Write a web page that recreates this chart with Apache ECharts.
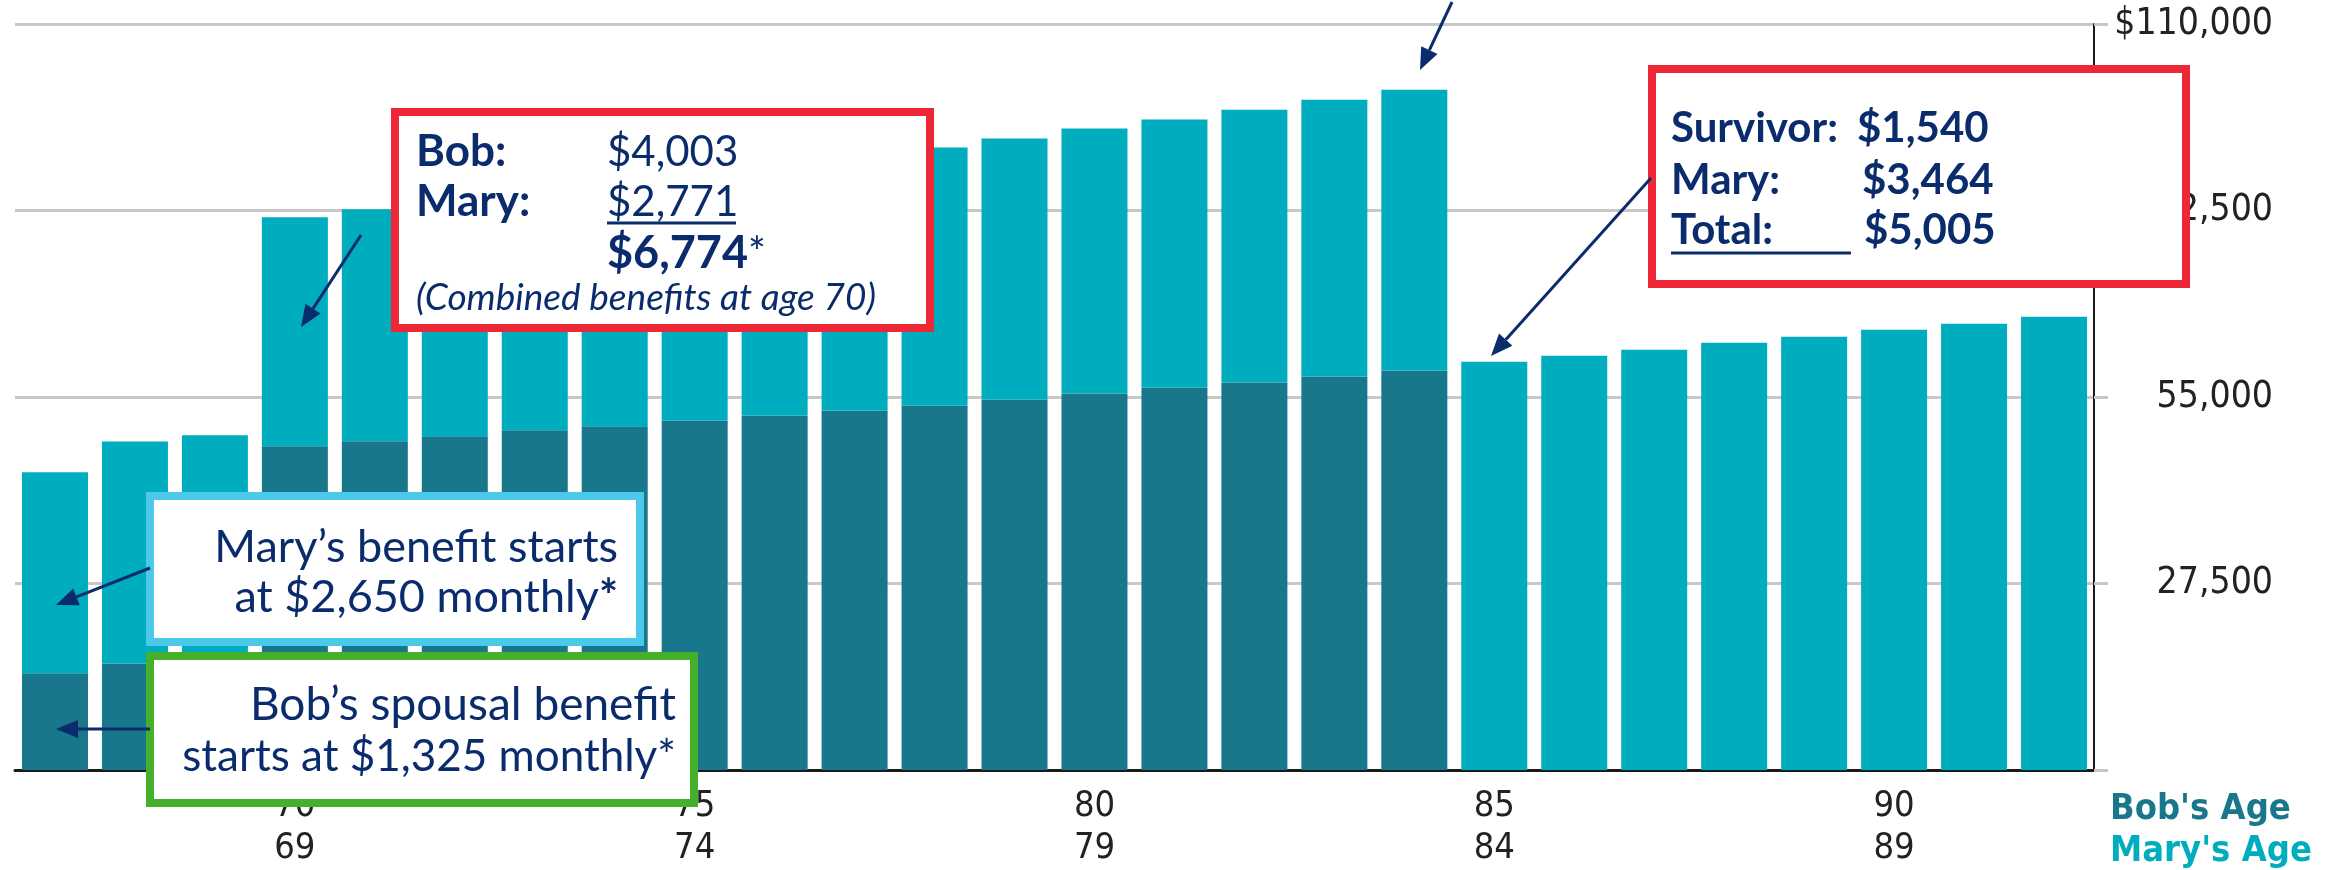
<!DOCTYPE html>
<html>
<head>
<meta charset="utf-8">
<title>Bob and Mary - annual benefits</title>
<script src="https://cdn.jsdelivr.net/npm/echarts@6.0.0/dist/echarts.min.js"></script>
<style>
  html, body { margin: 0; padding: 0; background: #fff; }
  #chart { width: 2346px; height: 870px; }
</style>
</head>
<body>
<div id="chart"></div>
<script>
// x axis: Bob's age, Mary's age (one year younger)
const bobAges = [67, 68, 69, 70, 71, 72, 73, 74, 75, 76, 77, 78, 79, 80, 81, 82, 83, 84, 85, 86, 87, 88, 89, 90, 91, 92];
const maryAges = [66, 67, 68, 69, 70, 71, 72, 73, 74, 75, 76, 77, 78, 79, 80, 81, 82, 83, 84, 85, 86, 87, 88, 89, 90, 91];

// annual benefit, dark part (Bob) and light part (Mary / survivor)
const bobBenefit = [14250, 15700, 16000, 47730, 48460, 49200, 50080, 50670, 51550, 52280, 53020, 53750, 54630,
  55510, 56390, 57130, 58010, 58890, 0, 0, 0, 0, 0, 0, 0, 0];
const maryBenefit = [29650, 32750, 33350, 33770, 34220, 34800, 35250, 35980, 36270, 36860, 37450, 38040, 38480,
  39070, 39510, 40240, 40830, 41410, 60210, 61090, 61980, 63000, 63880, 64910, 65790, 66820];

// y axis ticks
const yMin = 0;
const yMax = 110000;
const yStep = 27500;

const bobColor = '#19778b';
const maryColor = '#00adbe';
const navy = '#0b2c6c';
const axisFont = "'DejaVu Sans Condensed', 'Liberation Sans', sans-serif";
const noteFont = "Lato, 'Noto Sans', sans-serif";

const chart = echarts.init(document.getElementById('chart'));

// arrow = line + triangle head
function arrow(x1, y1, x2, y2) {
  const ang = Math.atan2(y2 - y1, x2 - x1);
  const len = 22, half = 9;
  const bx = x2 - len * Math.cos(ang), by = y2 - len * Math.sin(ang);
  const px = -Math.sin(ang) * half, py = Math.cos(ang) * half;
  return [
    { type: 'line', z: 100, shape: { x1: x1, y1: y1, x2: bx, y2: by }, style: { stroke: navy, lineWidth: 3 } },
    { type: 'polygon', z: 100, shape: { points: [[x2, y2], [bx + px, by + py], [bx - px, by - py]] }, style: { fill: navy } }
  ];
}

function box(x, y, w, h, color) {
  return { type: 'rect', z: 90, shape: { x: x, y: y, width: w, height: h },
    style: { fill: '#fff', stroke: color, lineWidth: 8 } };
}

function note(text, x, y, opt) {
  opt = opt || {};
  return {
    type: 'text', z: 100,
    style: {
      text: text, x: x, y: y,
      fill: opt.color || navy,
      font: (opt.style || 'normal') + ' ' + (opt.weight || 'normal') + ' ' + (opt.size || 42) + 'px ' + (opt.family || noteFont),
      align: opt.align || 'left',
      verticalAlign: 'middle',
      rich: opt.rich
    }
  };
}

function underline(x1, x2, y) {
  return { type: 'line', z: 100, shape: { x1: x1, y1: y, x2: x2, y2: y }, style: { stroke: navy, lineWidth: 3 } };
}

const boldStar = {
  t: { fontFamily: noteFont, fontSize: 45, color: navy },
  s: { fontFamily: noteFont, fontSize: 45, color: navy, fontWeight: 'bold' }
};
const plainStar = {
  b: { fontFamily: noteFont, fontSize: 45, color: navy, fontWeight: 'bold' },
  s: { fontFamily: noteFont, fontSize: 42, color: navy }
};

const graphics = [].concat(
  // combined benefits box
  box(395, 112, 535, 216, '#ee2737'),
  note('Bob:', 416, 152, { weight: 'bold', size: 44 }),
  note('$4,003', 607, 152),
  note('Mary:', 416, 202, { weight: 'bold', size: 44 }),
  note('$2,771', 607, 202),
  underline(607, 736, 223),
  note('{b|$6,774}{s|*}', 607, 253, { rich: plainStar }),
  note('(Combined benefits at age 70)', 416, 298, { style: 'italic', size: 37 }),
  // survivor box
  box(1652, 69, 534, 215, '#ee2737'),
  note('Survivor:', 1671, 128, { weight: 'bold' }),
  note('$1,540', 1857, 128, { weight: 'bold' }),
  note('Mary:', 1671, 180, { weight: 'bold' }),
  note('$3,464', 1862, 180, { weight: 'bold' }),
  note('Total:', 1671, 230, { weight: 'bold' }),
  underline(1671, 1851, 253),
  note('$5,005', 1864, 230, { weight: 'bold' }),
  // Mary start box
  box(150, 496, 490, 146, '#4cc8ea'),
  note('Mary\u2019s benefit starts', 618, 547, { align: 'right', size: 45 }),
  note('{t|at $2,650 monthly}{s|*}', 618, 597, { align: 'right', rich: boldStar }),
  // Bob spousal box
  box(150, 656, 544, 147, '#45b02c'),
  note('Bob\u2019s spousal benefit', 676, 705, { align: 'right', size: 46 }),
  note('starts at $1,325 monthly*', 676, 757, { align: 'right', size: 44 }),
  // arrows
  arrow(361, 235, 301, 327),
  arrow(1452, 2, 1420, 70),
  arrow(1651, 178, 1491, 356),
  arrow(150, 568, 56, 605),
  arrow(150, 729, 56, 729),
  // axis titles
  note("Bob's Age", 2110, 810, { weight: 'bold', size: 36, family: axisFont, color: bobColor }),
  note("Mary's Age", 2110, 852, { weight: 'bold', size: 36, family: axisFont, color: maryColor })
);

chart.setOption({
  animation: false,
  backgroundColor: '#fff',
  grid: { left: 15, right: 252, top: 24, bottom: 97 },
  xAxis: {
    type: 'category',
    data: bobAges,
    axisLine: { lineStyle: { color: '#1a1a1a', width: 3 } },
    axisTick: { interval: 0, alignWithLabel: true, length: 13, lineStyle: { color: '#1a1a1a', width: 2 } },
    axisLabel: {
      interval: function (i, v) { return Number(v) % 5 === 0; },
      formatter: function (v, i) { return v + '\n' + maryAges[i]; },
      color: '#222',
      fontFamily: axisFont,
      fontSize: 36,
      lineHeight: 42,
      margin: 16
    },
    splitLine: { show: false }
  },
  yAxis: {
    type: 'value',
    position: 'right',
    min: yMin,
    max: yMax,
    interval: yStep,
    axisLine: { show: true, lineStyle: { color: '#1a1a1a', width: 2 } },
    axisTick: { show: true, length: 14, lineStyle: { color: '#c8c8c8', width: 3 } },
    splitLine: { lineStyle: { color: '#c8c8c8', width: 3 } },
    axisLabel: {
      align: 'right',
      margin: 179,
      color: '#222',
      fontFamily: axisFont,
      fontSize: 37,
      formatter: function (v) {
        if (v === 0) return '';
        const s = v.toLocaleString('en-US');
        return v === yMax ? '$' + s : s;
      }
    }
  },
  series: [
    { name: 'Bob', type: 'bar', stack: 'benefit', data: bobBenefit, barWidth: 66,
      itemStyle: { color: bobColor } },
    { name: 'Mary', type: 'bar', stack: 'benefit', data: maryBenefit, barWidth: 66,
      itemStyle: { color: maryColor } }
  ],
  graphic: { elements: graphics }
});
</script>
</body>
</html>
